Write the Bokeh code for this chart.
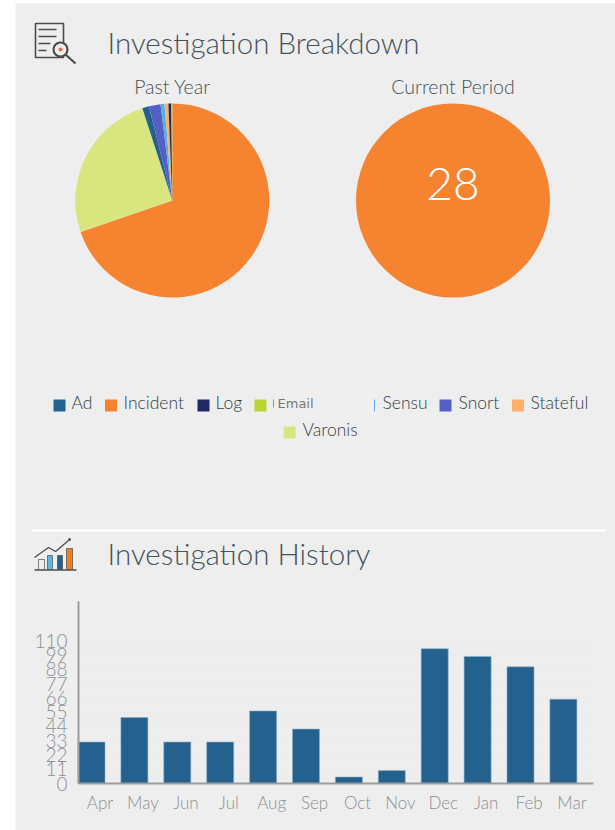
import numpy as np
from bokeh.embed import file_html
from bokeh.resources import INLINE
from bokeh.plotting import figure
from bokeh.models import Range1d, FixedTicker, LinearAxis
from bokeh.core.properties import value

# Data
breakdown_names = ["Incident", "Varonis", "Ad", "Snort", "Sensu", "Stateful", "Log", "Email"]
breakdown_values = [433, 157, 7, 12, 4, 4, 3, 1]
breakdown_colors = ["#f58330", "#d9e680", "#24618e", "#5560c6", "#4fb3e3", "#fdb06a", "#1f2a63", "#bcd432"]
current_names = ["Incident"]
current_values = [28]
months = ["Apr", "May", "Jun", "Jul", "Aug", "Sep", "Oct", "Nov", "Dec", "Jan", "Feb", "Mar"]
history = [32, 51, 32, 32, 56, 42, 5, 10, 104, 98, 90, 65]
y_ticks = [0, 11, 22, 33, 44, 55, 66, 77, 88, 99, 110]

BG = "#eeeeee"
TXT = "#46525c"
LIGHT = "Lato Light"
REG = "Lato"

# the plot's own ranges map the panel; "months"/"count" are the bar chart's scales
PX_PER_MONTH = 42.9
PX_PER_COUNT = 1.296
X0, BASE = 91.0, 783.0
p = figure(width=600, height=827, x_range=Range1d(15, 615), y_range=Range1d(830, 3),
           output_backend="svg", toolbar_location=None,
           min_border=0, min_border_left=0, min_border_right=0, min_border_top=0, min_border_bottom=0,
           background_fill_color=BG, border_fill_color=BG, x_axis_type=None, y_axis_type=None,
           styles={"margin": "3px 0 0 15px"})
p.grid.visible = False
p.outline_line_color = None
p.extra_x_ranges = {"months": Range1d((15 - X0) / PX_PER_MONTH, (615 - X0) / PX_PER_MONTH)}
p.extra_y_ranges = {"count": Range1d((BASE - 830) / PX_PER_COUNT, (BASE - 3) / PX_PER_COUNT)}


def txt(x, y, s, size, color=TXT, font=LIGHT, align="left"):
    p.text([x], [y], text=[s], text_font=value(font), text_font_size=size, text_color=color,
           text_align=align, text_baseline="middle")


def pie(cx, cy, r, vals, cols):
    a = np.cumsum([0] + list(vals)) / sum(vals) * 2 * np.pi
    p.wedge(x=[cx] * len(vals), y=[cy] * len(vals), radius=r,
            start_angle=(np.pi / 2 - a[:-1]).tolist(), end_angle=(np.pi / 2 - a[1:]).tolist(),
            direction="clock", fill_color=cols, line_color=None)


txt(107, 42, "Investigation Breakdown", "29.5px")
txt(172, 86, "Past Year", "19.5px", align="center")
txt(452.5, 86, "Current Period", "19.5px", align="center")
pie(171.8, 200, 97, breakdown_values, breakdown_colors)
p.circle(x=[452.5], y=[200], radius=97, fill_color=breakdown_colors[0], line_color=None)
txt(452.5, 183, str(current_values[0]), "46px", color="#ffffff", align="center")

# legend
legend_items = [("Ad", "#24618e", 59, 405, 71), ("Incident", "#f58330", 110.5, 405, 123),
                ("Log", "#1f2a63", 203, 405, 215), ("Email", "#bcd432", 260, 405, None),
                ("Sensu", "#4fb3e3", 368.5, 405, 382), ("Snort", "#5560c6", 445, 405, 458),
                ("Stateful", "#fdb06a", 517.5, 405, 530), ("Varonis", "#d9e680", 289, 432, 302)]
for name, col, sx, sy, tx in legend_items:
    p.rect([sx], [sy], width=12, height=12, fill_color=col, line_color=None)
    if tx is not None:
        txt(tx, sy - 3, name, "17.5px", color="#333e47", font=LIGHT)
# tooltip-like patch that hides one legend entry
p.rect([323.5], [404], width=100, height=26, fill_color="#efefef", line_color=None)
p.segment([273], [399], [273], [407], line_color="#b58f78", line_width=1)
txt(277, 403, "Email", "13px", color="#777777", font="DejaVu Sans")

# divider
p.segment([31], [530], [605], [530], line_color="#ffffff", line_width=2)
txt(107, 553, "Investigation History", "29.5px")

# icon: report with magnifier
ic = "#4c4c4c"
p.quad(left=[35], right=[63], top=[23], bottom=[57], fill_color=None, line_color=ic, line_width=1.6)
p.segment([38, 38, 38, 38], [29, 36, 43, 50], [56, 56, 50, 46], [29, 36, 43, 50], line_color=ic, line_width=1.6)
p.circle([60], [49], radius=7, fill_color=BG, line_color=ic, line_width=2.2)
p.circle([60], [49], radius=2, fill_color="#f26b43", line_color=None)
p.segment([65], [54], [75], [63], line_color=ic, line_width=2.2)

# icon: bars with trend
p.segment([34], [569.5], [76], [569.5], line_color=ic, line_width=1.6)
p.quad(left=[38, 47, 57, 66], right=[44, 52, 62, 72], top=[559, 555, 555, 548],
       bottom=[569, 569, 569, 569],
       fill_color=[BG, "#5cb8e0", "#24618e", "#f07d1e"], line_color=ic, line_width=0.7)
p.line([34, 48, 55, 68], [557, 547, 551, 540], line_color=ic, line_width=1.3)
p.circle([69], [539], radius=1.5, fill_color=ic, line_color=None)

# bar chart
x = np.arange(len(months))
x_lo, x_hi = (78 - X0) / PX_PER_MONTH, (593 - X0) / PX_PER_MONTH
y_hi = (BASE - 601) / PX_PER_COUNT
p.segment(x0=[x_lo] * len(y_ticks[1:]), x1=[x_hi] * len(y_ticks[1:]), y0=y_ticks[1:], y1=y_ticks[1:],
          line_color="#e6e6e6", line_dash="2 2", x_range_name="months", y_range_name="count")
p.vbar(x=x.tolist(), top=history, width=0.63, fill_color="#24618e", line_color="#8fb0c8", line_width=0.6,
       x_range_name="months", y_range_name="count")

# the month labels sit a little to the right of their bars in the reference
label_at = [round(float(i) + 0.2, 3) for i in x]
xaxis = LinearAxis(x_range_name="months", ticker=FixedTicker(ticks=label_at), bounds=(x_lo, x_hi),
                   major_label_overrides=dict(zip(label_at, months)), fixed_location=BASE)
yaxis = LinearAxis(y_range_name="count", ticker=FixedTicker(ticks=y_ticks), bounds=(0, y_hi), fixed_location=78)
for ax in (xaxis, yaxis):
    ax.axis_line_color = "#9c9c9c"
    ax.axis_line_width = 2
    ax.major_tick_line_color = None
    ax.minor_tick_line_color = None
    ax.major_label_text_color = "#8c9096"
    ax.major_label_text_font = LIGHT
    ax.major_label_text_font_size = "17px"
    ax.major_label_standoff = 2
yaxis.major_label_text_font_size = "19px"
yaxis.major_label_standoff = 5
p.add_layout(xaxis, "below")
p.add_layout(yaxis, "left")

open("out.html", "w").write(file_html(p, INLINE))
